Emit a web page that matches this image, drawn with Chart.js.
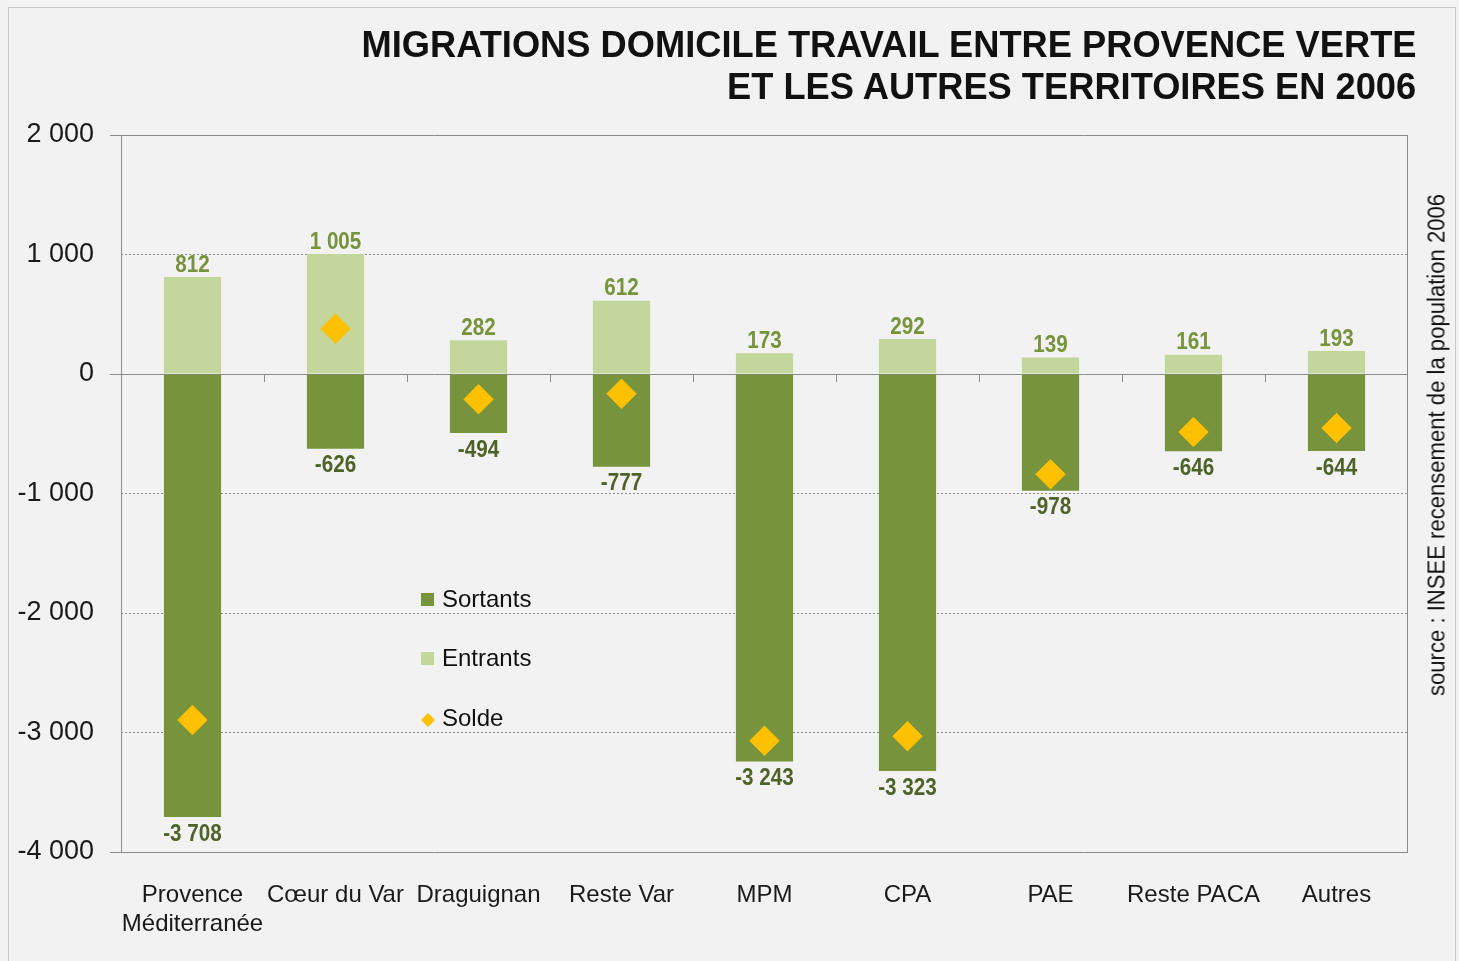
<!DOCTYPE html>
<html>
<head>
<meta charset="utf-8">
<script src="https://cdn.jsdelivr.net/npm/chart.js@4.4.0/dist/chart.umd.min.js"></script>
<style>
    html, body { margin: 0; padding: 0; background: #ffffff; }
    #wrap { position: relative; width: 1459px; height: 961px; background: #f2f2f2; overflow: hidden; }
    #frame { position: absolute; left: 8px; top: 7px; right: 3px; bottom: -2px; border: 1px solid #c8c8c8; }
    canvas { position: absolute; left: 0; top: 0; }
    .title { position: absolute; right: 43px; font: bold 37px "Liberation Sans Narrow", "Liberation Sans", sans-serif; color: #111; text-align: right; white-space: nowrap; transform: scaleX(0.98); transform-origin: right center; }
    #source { position: absolute; left: 1437px; top: 445px; transform: translate(-50%, -50%) rotate(-90deg) scaleX(0.96); font: 23px "Liberation Sans Narrow", "Liberation Sans", sans-serif; color: #111; white-space: nowrap; }
    .leg { position: absolute; left: 421px; font: 24px "Liberation Sans Narrow", "Liberation Sans", sans-serif; color: #111; white-space: nowrap; }
    .leg i { display: inline-block; width: 13px; height: 13px; margin-right: 8px; vertical-align: 1px; }
    .leg i.d { width: 10px; height: 10px; transform: rotate(45deg); margin-left: 2px; margin-right: 9px; }
</style>
</head>
<body>
<div id="wrap">
    <div id="frame"></div>
    <canvas id="chart" width="1459" height="961"></canvas>
    <div class="title" style="top:24px">MIGRATIONS DOMICILE TRAVAIL ENTRE PROVENCE VERTE</div>
    <div class="title" style="top:66px">ET LES AUTRES TERRITOIRES EN 2006</div>
    <div id="source">source : INSEE recensement de la population 2006</div>
    <div class="leg" style="top:585px"><i style="background:#77933c"></i>Sortants</div>
    <div class="leg" style="top:644px"><i style="background:#c3d69b"></i>Entrants</div>
    <div class="leg" style="top:704px"><i class="d" style="background:#ffc000"></i>Solde</div>
</div>
<script>
// categories and values
const territoires = [['Provence', 'Méditerranée'], 'Cœur du Var', 'Draguignan', 'Reste Var', 'MPM', 'CPA', 'PAE', 'Reste PACA', 'Autres'];
const sortants = [-3708, -626, -494, -777, -3243, -3323, -978, -646, -644];
const entrants = [812, 1005, 282, 612, 173, 292, 139, 161, 193];
const solde = [-2896, 379, -212, -165, -3070, -3031, -839, -485, -451];
const yTicks = [2000, 1000, 0, -1000, -2000, -3000, -4000];

const NARROW = '"Liberation Sans Narrow", "Liberation Sans", sans-serif';

function fmt(v) {
    let s = Math.abs(v).toString().replace(/\B(?=(\d{3})+(?!\d))/g, ' ');
    return (v < 0 ? '-' : '') + s;
}

// condensed text, like the narrow font of the original
function narrowText(ctx, text, x, y) {
    ctx.save();
    ctx.translate(x, y);
    ctx.scale(0.86, 1);
    ctx.fillText(text, 0, 0);
    ctx.restore();
}

// value labels, zero line, plot frame and category ticks
const extras = {
    id: 'extras',
    beforeDatasetsDraw(chart) {
        let ctx = chart.ctx, a = chart.chartArea;
        let x = chart.scales.x, y = chart.scales.y;
        let y0 = y.getPixelForValue(0);
        ctx.save();
        ctx.strokeStyle = '#8c8c8c';
        ctx.lineWidth = 1;
        ctx.beginPath();
        ctx.moveTo(a.left - 11, y0 + 0.5); ctx.lineTo(a.right, y0 + 0.5);
        ctx.moveTo(a.left - 11, Math.round(a.top) + 0.5); ctx.lineTo(a.right, Math.round(a.top) + 0.5);
        ctx.moveTo(a.left - 11, Math.round(a.bottom) + 0.5); ctx.lineTo(a.right, Math.round(a.bottom) + 0.5);
        ctx.moveTo(Math.round(a.left) + 0.5, a.top); ctx.lineTo(Math.round(a.left) + 0.5, a.bottom);
        ctx.moveTo(Math.round(a.right) - 0.5, a.top); ctx.lineTo(Math.round(a.right) - 0.5, a.bottom);
        for (let i = 1; i < territoires.length; i++) {
            let px = Math.round((x.getPixelForValue(i - 1) + x.getPixelForValue(i)) / 2) + 0.5;
            ctx.moveTo(px, y0); ctx.lineTo(px, y0 + 8);
        }
        ctx.stroke();
        ctx.restore();
    },
    afterDatasetsDraw(chart) {
        let ctx = chart.ctx;
        ctx.save();
        ctx.font = 'bold 24px ' + NARROW;
        ctx.textAlign = 'center';
        ctx.textBaseline = 'middle';
        chart.getDatasetMeta(1).data.forEach((bar, i) => {
            ctx.fillStyle = '#77933c';
            narrowText(ctx, fmt(entrants[i]), bar.x, bar.y - 12);
        });
        chart.getDatasetMeta(0).data.forEach((bar, i) => {
            ctx.fillStyle = '#4f6228';
            narrowText(ctx, fmt(sortants[i]), bar.x, bar.y + 17);
        });
        ctx.restore();
        // redraw diamonds over labels
        chart.getDatasetMeta(2).controller.draw();
    }
};

new Chart(document.getElementById('chart'), {
    data: {
        labels: territoires,
        datasets: [
            { type: 'bar', label: 'Sortants', data: sortants, backgroundColor: '#77933c', stack: 's', order: 2, barPercentage: 0.4, categoryPercentage: 1 },
            { type: 'bar', label: 'Entrants', data: entrants, backgroundColor: '#c3d69b', stack: 's', order: 1, barPercentage: 0.4, categoryPercentage: 1 },
            { type: 'line', label: 'Solde', data: solde, showLine: false, stack: 'solde', order: 0,
              pointStyle: 'rectRot', pointRadius: 15, pointHoverRadius: 15, backgroundColor: '#ffc000', borderColor: '#ffc000', borderWidth: 0 }
        ]
    },
    options: {
        responsive: false,
        animation: false,
        events: [],
        layout: { padding: { left: 0, right: 51, top: 135, bottom: 0 } },
        plugins: { legend: { display: false }, tooltip: { enabled: false } },
        scales: {
            x: {
                stacked: true,
                grid: { display: false },
                border: { display: false },
                ticks: { color: '#1a1a1a', font: { family: NARROW, size: 24 }, padding: 21, maxRotation: 0, autoSkip: false },
                afterFit(scale) { scale.height = 109; }
            },
            y: {
                stacked: true,
                min: -4000,
                max: 2000,
                afterBuildTicks(scale) { scale.ticks = yTicks.map(v => ({ value: v })); },
                afterFit(scale) { scale.width = 121; },
                border: { display: false, dash: [2, 2] },
                grid: {
                    color: (c) => (c.tick && (c.tick.value === 2000 || c.tick.value === 0 || c.tick.value === -4000)) ? 'rgba(0,0,0,0)' : '#8c8c8c',
                    tickColor: 'rgba(0,0,0,0)',
                    tickLength: 11
                },
                ticks: {
                    color: '#1a1a1a',
                    font: { family: NARROW, size: 27 },
                    padding: 16,
                    callback: (v) => fmt(v)
                }
            }
        }
    },
    plugins: [extras]
});
</script>
</body>
</html>
